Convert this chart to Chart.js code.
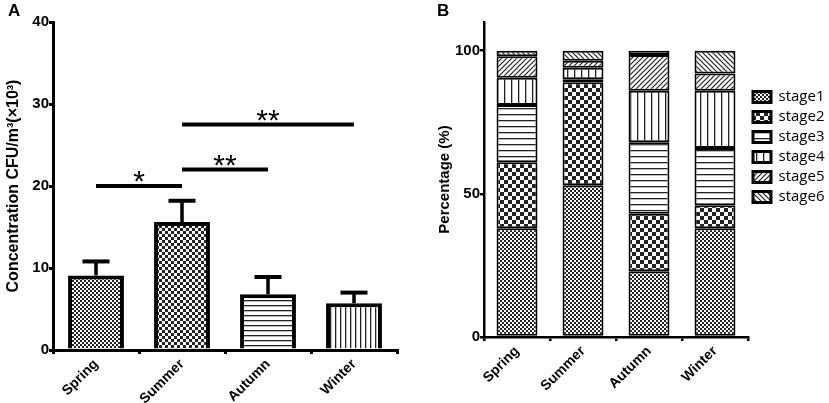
<!DOCTYPE html>
<html>
<head>
<meta charset="utf-8">
<script src="https://cdn.jsdelivr.net/npm/chart.js@4.4.1/dist/chart.umd.min.js"></script>
<style>
  body { margin: 0; background: #fff; }
  #wrap { position: relative; width: 829px; height: 403px; overflow: hidden; }
  canvas { position: absolute; top: 0; }
  .tag { position: absolute; top: 1px; font: bold 17px "Liberation Sans", Arial, sans-serif; color: #000; }
</style>
</head>
<body>
<div id="wrap">
  <canvas id="chartA" width="420" height="403" style="left:0"></canvas>
  <canvas id="chartB" width="409" height="403" style="left:420px"></canvas>
  <div class="tag" style="left:8px">A</div>
  <div class="tag" style="left:437px">B</div>
</div>
<script>
// datos
const seasons = ["Spring", "Summer", "Autumn", "Winter"];
const concMean = [9.1, 15.6, 6.8, 5.7];
const concErr = [1.7, 2.6, 2.1, 1.3];
// comparaciones significativas (indices de estacion)
const sigFrom = [0, 1, 1];
const sigTo = [1, 2, 3];
const sigLevel = [20, 22, 27.5];
const sigMark = ["*", "**", "**"];

const stageNames = ["stage1", "stage2", "stage3", "stage4", "stage5", "stage6"];
const stage1 = [38, 53, 23, 38];
const stage2 = [23, 36, 20, 8];
const stage3 = [20, 1, 25, 20];
const stage4 = [9.5, 4, 18, 20];
const stage5 = [7.5, 2.5, 12.5, 6];
const stage6 = [2, 3.5, 1.5, 8];
const pctTicks = [0, 50, 100];

Chart.defaults.font.family = "'Liberation Sans', Arial, sans-serif";
Chart.defaults.color = "#000";

// tramas en blanco y negro
function makePattern(kind, s) {
  const c = document.createElement("canvas");
  c.width = s; c.height = s;
  const g = c.getContext("2d");
  g.fillStyle = "#fff";
  g.fillRect(0, 0, s, s);
  g.fillStyle = "#222";
  g.strokeStyle = "#222";
  g.lineWidth = 1.2;
  const h = s / 2;
  if (kind === "checker") {
    g.fillRect(0, 0, h, h);
    g.fillRect(h, h, h, h);
  } else if (kind === "hline") {
    g.fillRect(0, 0, s, 1.3);
  } else if (kind === "vline") {
    g.fillRect(0, 0, 1.3, s);
  } else if (kind === "diag") {
    for (const o of [-s, 0, s]) {
      g.beginPath(); g.moveTo(o - 1, s + 1); g.lineTo(o + s + 1, -1); g.stroke();
    }
  } else if (kind === "diag2") {
    for (const o of [-s, 0, s]) {
      g.beginPath(); g.moveTo(o - 1, -1); g.lineTo(o + s + 1, s + 1); g.stroke();
    }
  }
  return g.createPattern(c, "repeat");
}

const fillsA = [
  makePattern("checker", 4),
  makePattern("checker", 6),
  makePattern("hline", 5),
  makePattern("vline", 5)
];
const fillsB = [
  makePattern("checker", 4),
  makePattern("checker", 8),
  makePattern("hline", 6),
  makePattern("vline", 7),
  makePattern("diag", 5),
  makePattern("diag2", 5)
];

// barras de error y lineas de significancia
const extrasA = {
  id: "extrasA",
  afterDatasetsDraw(chart) {
    const ctx = chart.ctx;
    const xs = chart.scales.x;
    const ys = chart.scales.y;
    ctx.save();
    ctx.strokeStyle = "#000";
    ctx.fillStyle = "#000";
    concMean.forEach((m, i) => {
      const px = xs.getPixelForValue(i);
      const y0 = ys.getPixelForValue(m);
      const y1 = ys.getPixelForValue(m + concErr[i]);
      ctx.lineWidth = 3.5;
      ctx.beginPath(); ctx.moveTo(px, y0); ctx.lineTo(px, y1); ctx.stroke();
      ctx.lineWidth = 4;
      ctx.beginPath(); ctx.moveTo(px - 13.5, y1); ctx.lineTo(px + 13.5, y1); ctx.stroke();
    });
    ctx.font = "30px 'Liberation Sans', Arial, sans-serif";
    ctx.textAlign = "center";
    ctx.textBaseline = "alphabetic";
    sigLevel.forEach((lv, k) => {
      const xa = xs.getPixelForValue(sigFrom[k]);
      const xb = xs.getPixelForValue(sigTo[k]);
      const py = ys.getPixelForValue(lv);
      ctx.lineWidth = 4;
      ctx.beginPath(); ctx.moveTo(xa, py); ctx.lineTo(xb, py); ctx.stroke();
      const mt = ctx.measureText(sigMark[k]);
      ctx.fillText(sigMark[k], (xa + xb) / 2, py - 4 - mt.actualBoundingBoxDescent);
    });
    ctx.restore();
  }
};

new Chart(document.getElementById("chartA"), {
  type: "bar",
  data: {
    labels: seasons,
    datasets: [{
      data: concMean,
      backgroundColor: fillsA,
      borderColor: "#000",
      borderWidth: 4,
      borderSkipped: "start",
      categoryPercentage: 1,
      barPercentage: 0.65
    }]
  },
  options: {
    responsive: false,
    animation: false,
    layout: { padding: { top: 22, right: 23, left: 0, bottom: 0 } },
    plugins: { legend: { display: false }, tooltip: { enabled: false } },
    scales: {
      y: {
        min: 0, max: 40,
        ticks: { stepSize: 10, padding: 0, font: { size: 15, weight: "bold" } },
        grid: { drawOnChartArea: false, tickLength: 4, color: "#000", lineWidth: 3 },
        border: { color: "#000", width: 3 },
        title: { display: true, text: "Concentration CFU/m³(×10³)", padding: { top: 4, bottom: 0 }, font: { size: 16, weight: "bold" } },
        afterFit(s) { s.width = 53; }
      },
      x: {
        ticks: { minRotation: 45, maxRotation: 45, padding: 2, font: { size: 14, weight: "bold" } },
        grid: { drawOnChartArea: false, tickLength: 4, color: "#000", lineWidth: 3 },
        border: { color: "#000", width: 3 },
        afterFit(s) { s.height = 53; }
      }
    }
  },
  plugins: [extrasA]
});

const stageData = [stage1, stage2, stage3, stage4, stage5, stage6];

new Chart(document.getElementById("chartB"), {
  type: "bar",
  data: {
    labels: seasons,
    datasets: stageData.map((d, i) => ({
      label: stageNames[i],
      data: d,
      backgroundColor: fillsB[i],
      borderColor: "#000",
      borderWidth: 2,
      borderSkipped: false,
      categoryPercentage: 1,
      barPercentage: 0.62
    }))
  },
  options: {
    responsive: false,
    animation: false,
    layout: { padding: { top: 22, right: 0, left: 0, bottom: 0 } },
    plugins: {
      tooltip: { enabled: false },
      legend: {
        position: "right",
        align: "start",
        maxWidth: 81,
        title: { display: true, text: " ", padding: { top: 48, bottom: 0 }, font: { size: 12 } },
        labels: {
          boxWidth: 18, boxHeight: 11, padding: 5,
          color: "#000",
          font: { size: 15, family: "'Open Sans', sans-serif" },
          generateLabels(chart) {
            return Chart.defaults.plugins.legend.labels.generateLabels(chart)
              .map(l => Object.assign(l, { lineWidth: 3 }));
          }
        }
      }
    },
    scales: {
      y: {
        stacked: true,
        min: 0, max: 110,
        afterBuildTicks(s) { s.ticks = pctTicks.map(v => ({ value: v })); },
        ticks: { padding: 0, font: { size: 15, weight: "bold" } },
        grid: { drawOnChartArea: false, tickLength: 4, color: "#000", lineWidth: 2.5 },
        border: { color: "#000", width: 2.5 },
        title: { display: true, text: "Percentage (%)", padding: { top: 16, bottom: 0 }, font: { size: 15, weight: "bold" } },
        afterFit(s) { s.width = 64; }
      },
      x: {
        stacked: true,
        ticks: { minRotation: 45, maxRotation: 45, padding: 2, font: { size: 14, weight: "bold" } },
        grid: { drawOnChartArea: false, tickLength: 4, color: "#000", lineWidth: 2.5 },
        border: { color: "#000", width: 2.5 },
        afterFit(s) { s.height = 66; }
      }
    }
  }
});
</script>
</body>
</html>
